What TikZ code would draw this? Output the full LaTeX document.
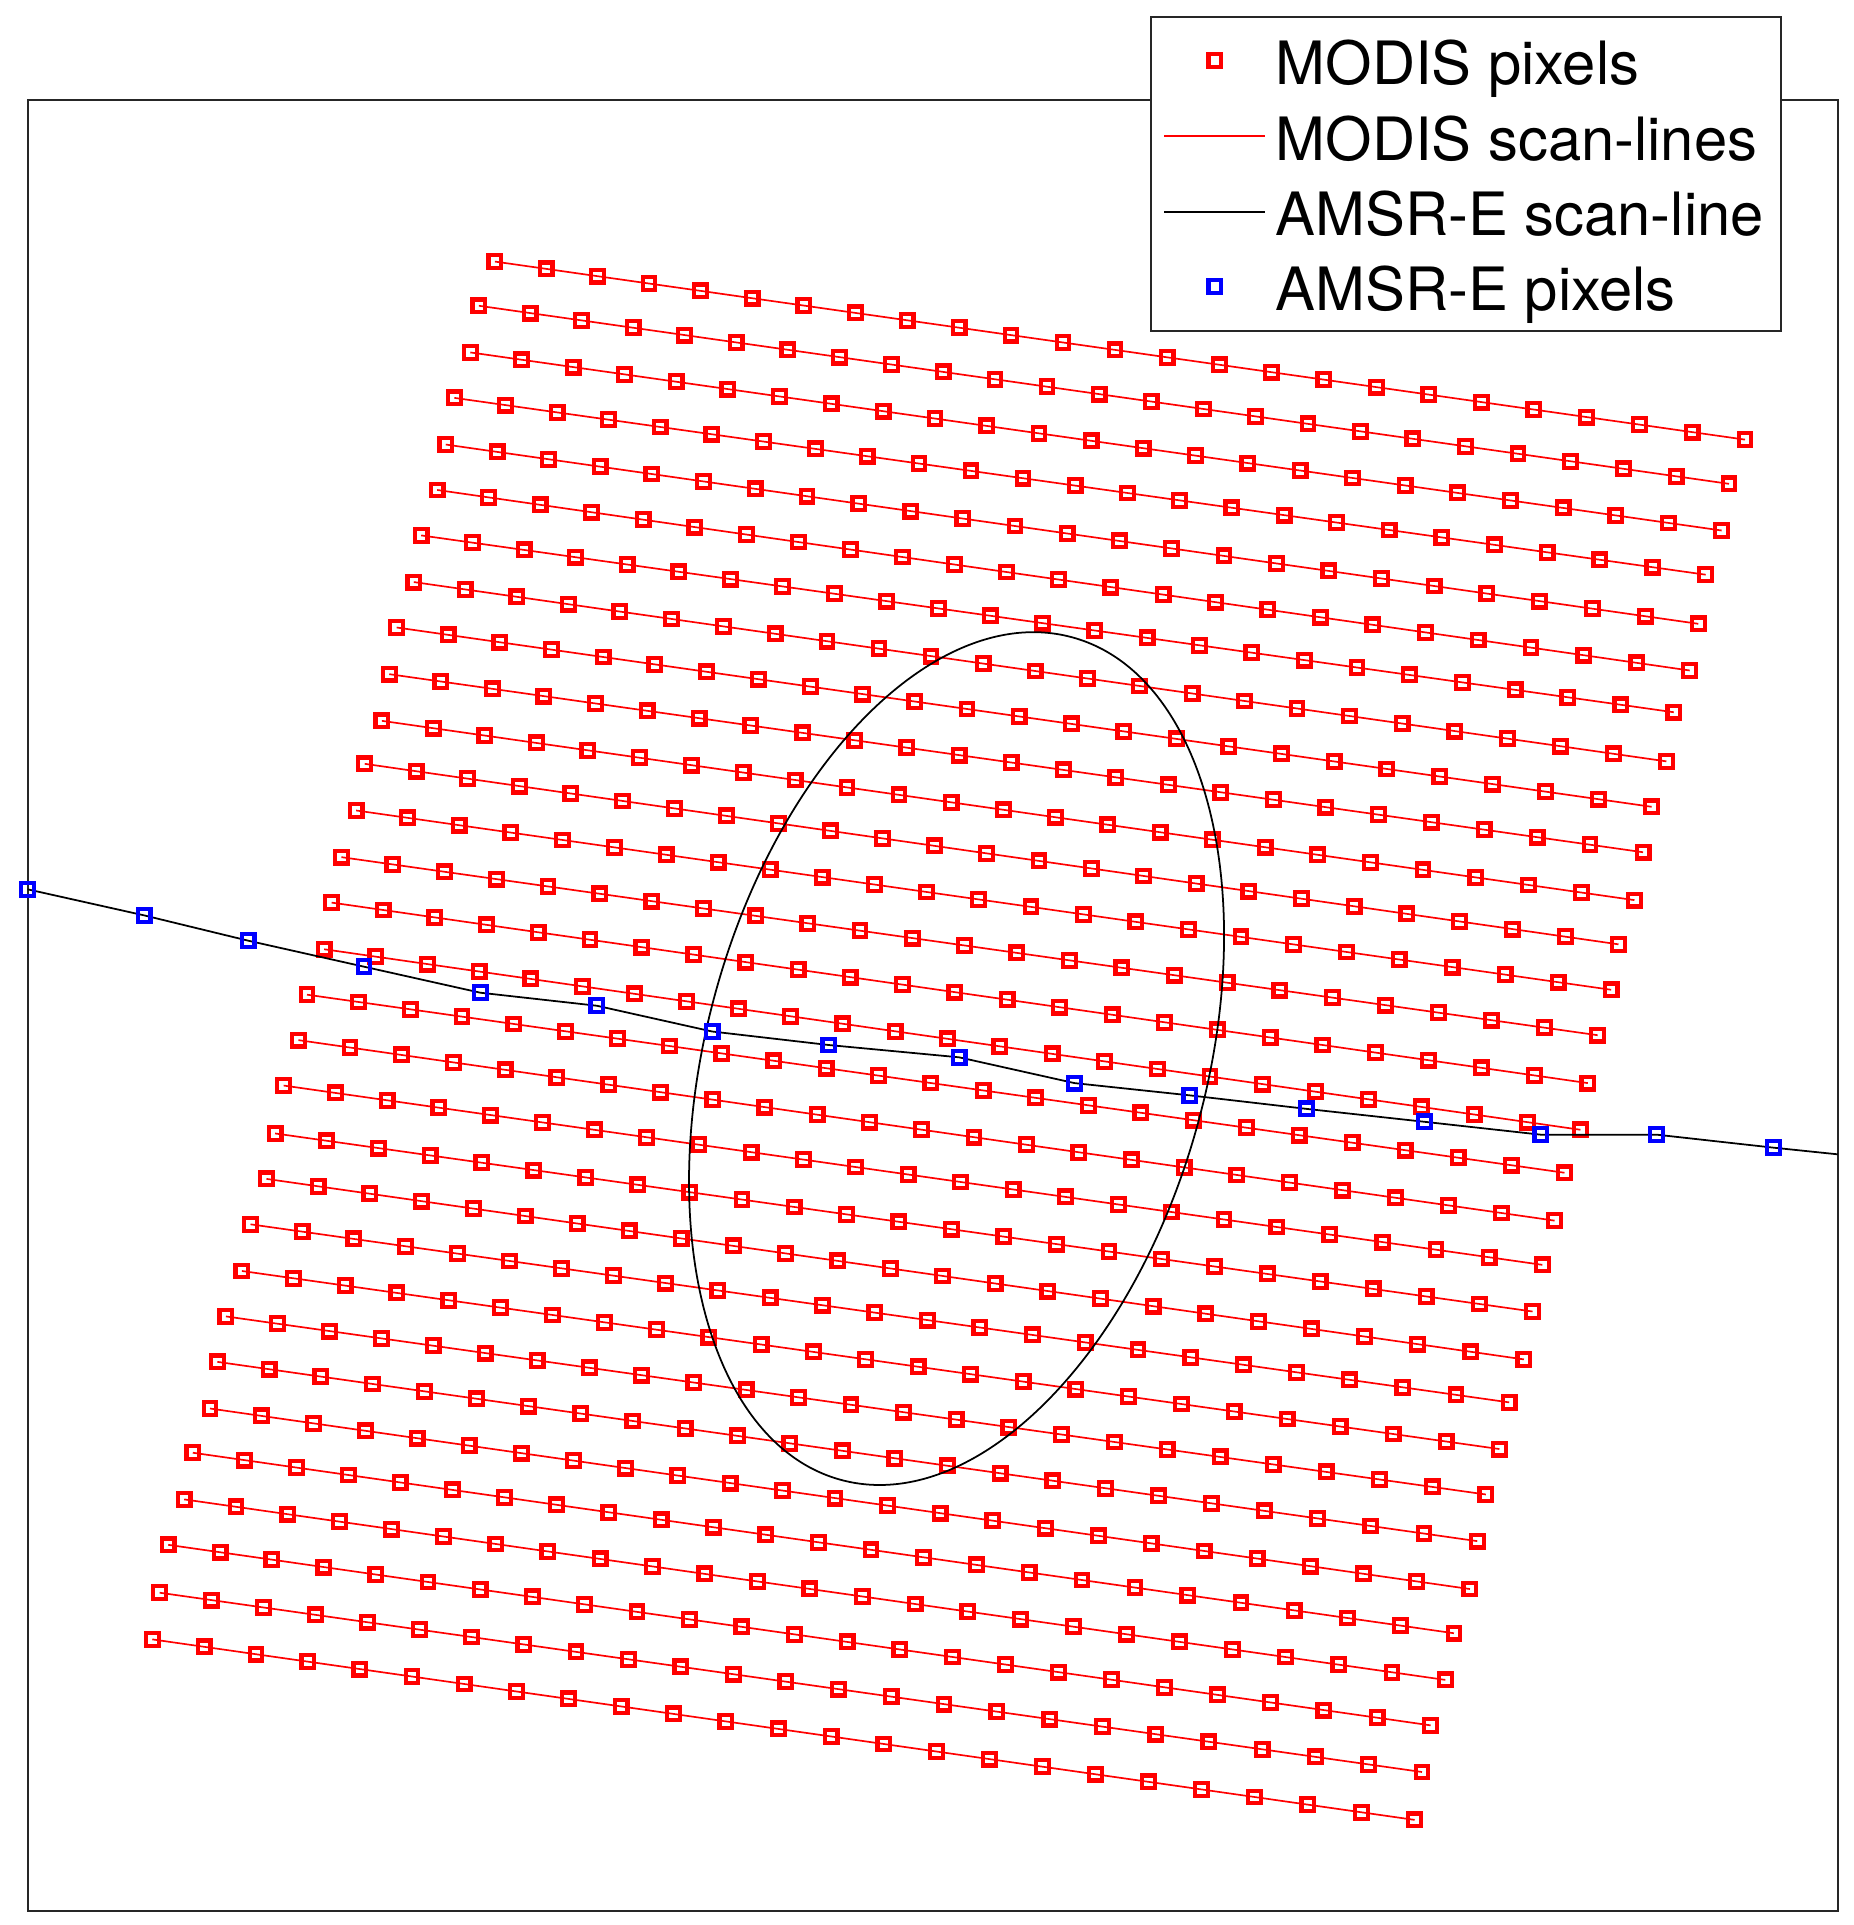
\documentclass[tikz,border=0pt]{standalone}
\usepackage{fontspec}
\setmainfont{TeX Gyre Heros}
\usetikzlibrary{calc}
\begin{document}
\begin{tikzpicture}[x={(0.0122797cm,0)}, y={(0,-0.0122797cm)},
  mpix/.style={rectangle, draw=red, line width=1.2pt, minimum size=0.127cm, inner sep=0pt, outer sep=0pt},
  apix/.style={mpix, draw=blue},
  mline/.style={red, line width=0.48pt},
  aline/.style={black, line width=0.5pt},
  framestyle/.style={draw=black!85, line width=0.6pt},
  lab/.style={anchor=base west, inner sep=0pt, outer sep=0pt, font=\fontsize{17}{20}\selectfont}]
\useasboundingbox (0,0) rectangle (1509,1567.6);
% plot frame
\draw[framestyle] (22.5,81.5) rectangle (1496.5,1556);
% MODIS scan-lines and pixels
\foreach \r/\xa/\ya/\xb/\yb in {
 1/403/213/1421/358, 2/390/249/1408/394, 3/383/287/1402/432, 4/370/324/1389/468,
 5/363/362/1383/508, 6/356/399/1376/546, 7/343/436/1363/580, 8/337/474/1357/620,
 9/323/511/1345/657, 10/317/549/1338/694, 11/311/587/1331/733, 12/297/622/1318/769,
 13/290/660/1312/806, 14/278/698/1301/843, 15/270/735/1293/882, 16/264/773/1287/920,
 17/250/810/1274/955, 18/243/847/1266/994, 19/231/884/1256/1030, 20/224/923/1248/1068,
 21/217/960/1241/1107, 22/204/997/1229/1142, 23/197/1035/1221/1180, 24/184/1072/1210/1217,
 25/177/1109/1203/1255, 26/171/1147/1197/1294, 27/157/1183/1184/1330, 28/150/1221/1177/1368,
 29/137/1258/1165/1405, 30/130/1297/1158/1443, 31/124/1335/1152/1482}
{
  \foreach \i in {0,...,24}{
    \pgfmathsetmacro\ff{\i/24 + 0.0157*(\i/24)*(\i/24-1)}
    \coordinate (p\r-\i) at ($(\xa,\ya)!\ff!(\xb,\yb)$);
  }
  \draw[mline] (p\r-0) -- (p\r-24);
  \foreach \i in {0,...,24}{
    \node[mpix] (m\r-\i) at (p\r-\i) {};
  }
}
% ellipse
\coordinate (E) at (779,862);
\draw[aline, rotate around={74.58:(E)}] (E) ellipse [x radius=4.370cm, y radius=2.500cm];
% AMSR-E scan-line and pixels
\foreach \k/\x/\y in {1/22.5/724.2, 2/117.3/745.4, 3/202/766, 4/296.4/787.2, 5/391.2/808.4,
  6/486/819, 7/580/840, 8/675/851, 9/781/861, 10/875/882, 11/969/892, 12/1064/903,
  13/1159.9/913.5, 14/1254.7/924, 15/1349.1/924, 16/1444.4/934.6}
  {\coordinate (a\k) at (\x,\y);}
\coordinate (aend) at (1496.5,940);
\draw[aline] (a1) -- (a2) -- (a3) -- (a4) -- (a5) -- (a6) -- (a7) -- (a8) -- (a9) -- (a10)
  -- (a11) -- (a12) -- (a13) -- (a14) -- (a15) -- (a16) -- (aend);
\foreach \k in {1,...,16}{\node[apix] (b\k) at (a\k) {};}
% legend
\draw[framestyle, fill=white] (937.3,13.6) rectangle (1450.5,269.3);
\node[mpix] (lg1) at (989.2,49.4) {};
\node[lab] (lt1) at (1039,68.7) {MODIS pixels};
\coordinate (lg2a) at (948.2,110.5);
\coordinate (lg2b) at (1030.1,110.5);
\draw[mline] (lg2a) -- (lg2b);
\node[lab] (lt2) at (1039,130.3) {MODIS scan-lines};
\coordinate (lg3a) at (948.2,172.4);
\coordinate (lg3b) at (1030.1,172.4);
\draw[aline] (lg3a) -- (lg3b);
\node[lab] (lt3) at (1039,191.9) {AMSR-E scan-line};
\node[apix] (lg4) at (989.2,233.5) {};
\node[lab] (lt4) at (1039,253) {AMSR-E pixels};
\end{tikzpicture}
\end{document}
